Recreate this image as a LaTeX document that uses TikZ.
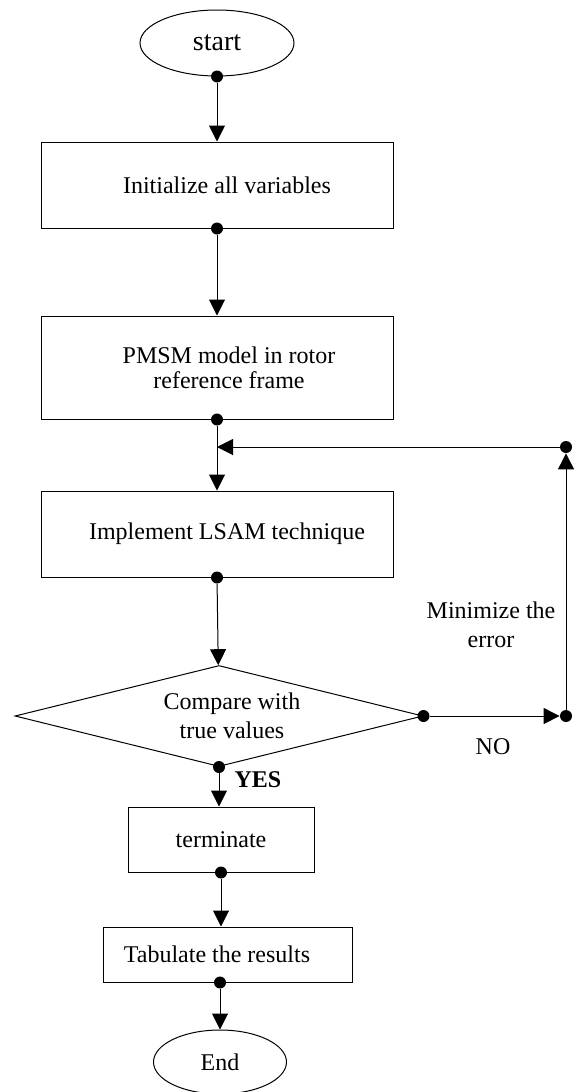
\documentclass[tikz,border=0pt]{standalone}
\usepackage{fontspec}
\setmainfont{Liberation Serif}
\usetikzlibrary{shapes.geometric,arrows.meta,positioning}
\tikzset{
        block/.style={
            rectangle, draw, line width=0.5pt,
            minimum width=176pt, inner sep=0pt,
            align=center
        },
        term/.style={
            draw, ellipse, line width=0.5pt,
            inner sep=0pt
        },
        decision/.style={
            diamond, draw, line width=0.5pt, aspect=4,
            minimum width=204pt, minimum height=50.5pt,
            inner sep=0pt, align=center
        },
        dot/.style={
            circle, fill, inner sep=0pt,
            minimum size=6pt
        },
        line/.style={
            draw, line width=0.5pt,
            -{Triangle[length=8pt,width=8pt]}
        }
    }
% pushes a line of text to the right inside its box
\newcommand{\indenttext}[2][10pt]{\hspace*{#1}#2}

\begin{document}
\begin{tikzpicture}[
    x = 0.5pt, y = -0.5pt,
    every node/.style = {align=center, font=\fontsize{12}{14.5}\selectfont},
  ]
    \useasboundingbox (0,0) rectangle (579,1092);

    \node[term, minimum width=77pt, minimum height=33pt,
          font=\fontsize{14}{16}\selectfont] (A) at (217,43) {start};
    \node[block, minimum height=43pt] (B) at (217,185) {\indenttext{Initialize all variables}};
    \node[block, minimum height=51.5pt,
          font=\fontsize{12}{12.5}\selectfont] (C) at (217,367.5)
          {\indenttext[12pt]{PMSM model in rotor}\\\indenttext[12pt]{reference frame}};
    \node[block, minimum height=43pt] (D) at (217,534) {\indenttext{Implement LSAM technique}};
    \node[decision] (E) at (219,716) {\indenttext[13pt]{Compare with}\\\indenttext[13pt]{true values}};
    \node[block, minimum width=93pt, minimum height=32.5pt] (F) at (221,839.5) {terminate};
    \node[block, minimum width=124.5pt, minimum height=27.5pt] (G) at (227.5,954.5) {Tabulate the results\hspace*{10.5pt}};
    \node[term, minimum width=66.5pt, minimum height=32pt] (H) at (220,1062) {End};

    % junction dots
    \node[dot] (a) at (A.south) {};
    \node[dot] (b) at (B.south) {};
    \node[dot] (c) at (C.south) {};
    \node[dot] (d) at (D.south) {};
    \node[dot] (e) at (E.south) {};
    \node[dot] (f) at (F.south) {};
    \node[dot] (g) at (G.south -| H.center) {};
    \node[dot] (r) at (E.east) {};
    \node[dot] (s) at (566,716) {};
    \node[dot] (t) at (566,447) {};
    \coordinate (u) at (c |- t);

    \path[line] (a) -- (B);
    \path[line] (b) -- (C);
    \path[line] (c) -- (D);
    \path[line] (d) -- (E);
    \path[line] (e) -- (e |- F.north);
    \path[line] (f) -- (f |- G.north);
    \path[line] (g) -- (H);

    % loop back when the error is too large
    \path[line] (r) -- (s);
    \path[line] (s) -- (t);
    \path[line] (t) -- (u);

    \node at (491,625) {Minimize the\\error};
    \node at (493,747) {NO};
    \node[font=\fontsize{12}{14.5}\selectfont\bfseries] at (258,780) {YES};

\end{tikzpicture}
\end{document}
